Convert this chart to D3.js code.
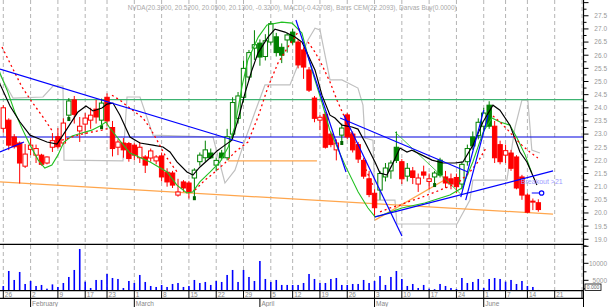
<!DOCTYPE html>
<html>
<head>
<meta charset="utf-8">
<script src="https://cdn.jsdelivr.net/npm/d3@7"></script>
<style>
  body { margin: 0; background: #fff; }
  svg { display: block; font-family: "Liberation Sans", Arial, sans-serif; }
</style>
</head>
<body>
<div id="chart"></div>
<script>
// Daily bars, trading day index 0 = Jan 26 2004
var open  = [23.22,23.53,22.89,22.66,21.78,22.42,22.20,22.20,21.90,22.50,22.90,22.66,23.72,24.30,23.12,23.38,23.53,23.95,23.53,24.40,23.25,22.50,22.66,22.64,22.58,22.10,22.13,22.09,21.98,22.17,21.55,21.52,20.68,21.18,21.14,21.33,21.95,22.10,22.28,21.82,22.28,22.10,23.00,23.60,24.40,25.17,26.27,26.46,25.95,26.50,26.70,26.30,26.58,26.88,26.50,26.20,25.44,24.37,23.53,23.75,23.00,22.40,22.96,23.73,23.00,22.60,22.00,21.30,20.75,20.87,21.37,21.60,22.50,21.95,21.40,21.60,21.10,21.56,21.20,21.37,22.01,21.37,21.30,21.35,21.10,21.95,22.89,22.95,23.30,24.10,23.30,22.60,22.20,22.28,22.13,21.37,20.68,20.42,20.39];
var high  = [24.10,23.60,23.00,22.72,22.62,22.85,22.60,22.25,22.15,23.04,23.23,23.60,24.37,24.45,23.65,23.80,24.00,24.30,24.35,24.55,23.50,22.80,22.85,22.70,22.65,22.70,22.20,22.45,22.20,22.30,21.70,21.60,21.30,21.25,21.22,21.70,22.30,22.75,22.45,22.10,22.40,23.20,24.40,24.60,25.80,26.20,26.95,26.60,26.80,27.30,26.85,26.45,26.85,27.00,26.60,26.30,25.55,24.45,23.72,23.84,23.10,22.80,23.40,23.80,23.10,22.70,22.10,21.60,20.90,21.60,21.90,22.00,23.10,22.05,21.90,21.75,21.50,21.80,21.50,21.60,22.10,21.60,21.50,21.50,21.95,22.60,23.10,23.60,24.00,24.25,23.50,22.75,22.60,22.40,22.20,21.45,20.75,20.55,20.52];
var low   = [23.05,22.39,22.45,21.12,21.71,22.20,21.90,21.80,21.85,22.32,22.45,22.60,23.61,23.40,22.70,23.00,23.20,23.40,23.30,23.30,22.15,22.20,22.10,21.95,22.00,21.90,21.52,21.95,21.85,21.20,21.00,20.95,20.62,20.80,20.55,20.60,21.80,21.95,22.05,21.60,22.00,22.00,22.90,23.40,24.20,25.05,25.82,25.60,25.80,26.40,25.95,25.70,26.10,26.40,25.50,25.10,24.60,23.45,23.15,22.45,22.50,22.00,22.70,22.80,22.30,21.90,21.30,20.60,19.84,20.50,21.20,21.30,21.90,21.10,21.20,21.10,20.80,21.30,20.90,21.10,21.35,20.95,20.90,20.75,20.90,21.80,22.40,22.80,23.10,23.20,21.90,21.85,21.90,21.60,20.90,20.50,20.00,20.11,20.05];
var close = [24.00,22.58,22.52,21.90,22.24,22.58,22.45,21.85,22.13,22.75,22.52,23.42,24.26,23.75,23.30,23.61,23.72,23.65,24.18,23.50,22.45,22.70,22.40,22.07,22.20,22.50,21.82,22.36,22.13,21.37,21.18,21.06,20.80,20.95,20.80,21.63,22.20,22.40,22.10,22.00,22.10,22.90,24.20,24.45,25.50,26.10,26.40,25.93,26.55,27.20,26.10,26.00,26.77,26.50,25.63,25.55,24.67,23.60,23.64,22.50,22.60,22.66,23.23,22.89,22.40,22.05,21.40,20.70,20.20,21.50,21.71,21.90,22.00,21.30,21.70,21.35,21.33,21.44,21.30,21.52,21.44,21.14,21.10,21.00,21.85,22.45,22.55,23.45,23.80,23.30,22.10,21.95,22.37,21.70,20.95,20.68,20.03,20.45,20.13];
// trend state shown by the bar colour (1 = up / green, 0 = down / red)
var trend = [0,0,0,0,0,0,0,0,0,0,0,0,1,0,0,0,0,0,1,0,0,0,0,0,0,0,0,0,0,0,0,0,0,0,0,1,1,1,1,1,1,1,1,1,1,1,1,1,1,1,1,1,1,1,0,0,0,0,0,0,0,0,1,0,0,0,0,0,0,1,1,1,1,0,1,0,0,0,0,1,1,0,0,0,1,1,1,1,1,1,0,0,0,0,0,0,0,0,0];
// volume in thousands of shares
var volume = [3330,7740,5100,7450,3920,4800,3330,3630,2540,3800,3040,4210,5980,8040,14210,4600,2740,5100,5100,6860,5680,5390,2740,4800,4210,6570,4510,3330,3040,3630,3040,3920,4210,3040,3330,5100,4210,4510,3630,4800,4510,6570,8040,4510,8040,5980,4800,10680,5390,4510,5100,3630,3630,3630,3630,4210,6860,5390,4210,4210,5390,5680,3630,3630,3920,3920,5100,4210,4800,6270,3630,5980,7740,5390,3330,3920,2740,3630,2540,2390,3920,3330,2740,2450,5680,4210,4510,5390,2740,5390,5680,5390,4600,5100,3920,4800,3330,3040,2160];
// Darvas buy signals (bar index)
var darvasBuy = [12, 18, 35, 62, 79];

// indicator lines: [day index], [price]
var blackIdx = [-1.15,-0.6,1.23,3.06,4.89,6.17,8.0,9.83,10.93,12.22,13.68,15.15,16.43,18.08,18.99,20.09,21.37,23.2,25.04,27.41,29.25,30.53,31.81,33.64,34.74,36.03,37.86,39.14,40.6,41.89,42.98,44.27,45.55,46.65,48.48,49.76,51.59,53.43,54.71,55.81,57.09,58.37,59.84,60.75,62.03,63.86,64.96,66.24,68.08,68.99,70.27,71.19,72.66,73.94,74.85,76.68,78.52,80.53,82.73,84.19,86.03,87.86,89.69,90.97,92.8,94.63,95.91,97.74];
var blackVal = [25.25,24.90,24.07,23.46,22.96,22.85,22.70,22.62,22.96,23.38,23.84,24.07,23.88,23.99,24.14,24.18,23.72,22.89,22.66,22.58,22.51,22.32,21.94,21.56,21.44,21.75,22.09,22.36,22.58,22.77,23.53,24.56,25.44,26.08,26.69,26.99,26.88,26.69,26.50,26.01,25.44,24.48,23.72,23.61,23.34,23.27,23.19,22.70,21.94,21.52,21.44,21.82,22.47,22.32,22.39,22.20,22.01,21.90,21.90,21.94,22.58,23.46,24.10,23.91,23.34,22.32,21.94,21.06];
var greenIdx = [-1.2,-0.6,0.7,2.1,3.4,4.9,6.4,7.6,8.9,10,11.1,12.6,14.4,16.2,17.7,18.8,19.5,23.2,26.9,30,31.8,33.6,34.7,36,37.9,39.7,41.2,42.4,43.7,44.8,46.7,48.3,51,52.9,54.7,56.5,58.4,59.8,62.6,65,66.8,68.1,69.4,73,77.2,81.8,84,86,87.9,89.5,91,92.8,94.1,95.6,96.8];
var greenVal = [25.74,25.32,24.67,23.84,23.23,22.58,22.01,21.71,21.82,22.20,22.70,22.93,23.04,23.15,23.31,23.46,23.23,22.28,21.94,21.56,21.06,20.76,20.80,21.18,21.56,21.94,22.51,23.27,24.79,25.82,26.69,27.15,27.26,27.22,26.84,25.44,24.18,23.15,21.82,20.80,20.19,19.85,19.92,20.19,20.38,20.68,20.95,21.94,23.08,23.61,23.46,23.34,22.85,22.20,21.52];
var grayIdx = [-0.6,1.78,7.27,9.1,10.93,11.12,21.92,22.66,25.04,27.42,38.41,40.6,42.43,44.27,46.1,47.93,52.51,54.34,55.81,57.09,58.01,58.92,59.84,62.03,64.96,65.88,66.24,67.71,68.08,71.74,72.1,83.09,85.47,86.01,92.24,93.7,94.99,96.08,96.81,98.28];
var grayVal = [25.25,24.37,24.41,24.83,24.83,22.01,21.98,24.41,24.41,22.96,22.89,21.14,21.63,22.77,23.84,24.87,24.87,25.82,26.58,27.03,26.96,26.01,25.06,25.06,24.75,24.10,22.85,22.77,20.49,20.49,19.58,19.58,20.49,21.25,21.25,23.23,24.29,24.29,22.39,22.28];
// stop-and-reverse points, null breaks the line where it flips
var sarIdx = [-0.24,1.59,3.42,5.26,7.27,9.1,null,10.75,12.58,14.41,16.24,18.08,19.54,null,19.91,21.37,22.66,24.12,25.59,26.87,28.15,29.62,30.9,32.0,null,35.11,36.94,38.77,40.6,42.43,44.82,46.65,48.48,50.31,52.14,53.43,54.34,null,55.81,57.09,58.37,59.84,61.12,62.58,63.86,65.33,66.61,67.71,null,69.0,70.82,72.66,74.49,76.32,78.15,79.98,81.81,83.64,85.47,86.93,88.4,null,89.69,90.97,92.44,93.7,94.99,96.45,97.92];
var sarVal = [26.31,25.55,24.79,24.22,23.65,23.08,null,22.77,22.89,23.00,23.08,23.15,23.23,null,24.48,24.29,24.07,23.84,23.61,23.23,22.77,22.20,21.82,21.52,null,20.87,21.25,21.56,21.90,22.32,22.70,23.65,24.79,25.70,26.31,26.69,27.03,null,26.50,26.12,25.63,24.98,24.29,23.61,22.96,22.20,21.56,21.06,null,20.04,20.19,20.30,20.45,20.57,20.72,20.87,21.02,21.21,21.56,21.94,22.47,null,23.69,23.46,23.15,22.85,22.58,22.32,22.09];

// drawn trend lines: [startIdx, startPrice, endIdx, endPrice]
var blueLines = [[-0.6,25.47,43.9,22.66],[-0.6,22.32,3.79,22.70],[53.6,27.34,62.77,21.56],[62.4,23.72,73.02,19.12],[61.7,23.61,85.1,21.56],[68.08,19.85,100.7,21.6],[83.8,20.60,88.0,23.91],[84.7,20.49,88.8,23.72]];
var orangeLines = [[-0.6,21.18,100.7,19.96],[41.15,21.98,57.45,21.98],[68.08,19.73,81.45,21.33]];
var greenTrend = [[71.74,23.08,84.0,20.68]];
var levelGreen = 24.31, levelBlue = 22.89;

// axis labels
var weekIdx = [0,5,10,15,19,24,29,34,39,44,49,53,58,63,68,73,78,83,88,92,96,101,106];
var weekLabel = ["26","2","9","17","23","1","8","15","22","29","5","12","19","26","3","10","17","24","1","7","14","21","28"];
var monthIdx = [5,24,47,68,88];
var monthLabel = ["February","March","April","May","June"];
var priceTicks = d3.range(19, 27.51, 0.5);
var volTicks = [5000, 10000];

var title = "NVDA(20.3900, 20.5200, 20.0500, 20.1300, -0.3200), MACD(-0.42708), Barrs CEM(22.2093), Darvas Buy(0.0000)";

var svg = d3.select("#chart").append("svg").attr("width", 610).attr("height", 307);

var axisX = 583.5, priceBottom = 244.3, volBottom = 290.7, dateRow = 298.3;
var x = d3.scaleLinear().domain([0, 101]).range([3.3, 554.7]);
var y = d3.scaleLinear().domain([18.82, 28.1]).range([244, 0]);
var yv = d3.scaleLinear().domain([1941, 15588]).range([volBottom, priceBottom]);

var red = "#ff0000", green = "#008000";

svg.append("clipPath").attr("id", "pclip").append("rect")
  .attr("x", 0).attr("y", 0).attr("width", axisX).attr("height", priceBottom);
svg.append("clipPath").attr("id", "aclip").append("rect")
  .attr("x", 0).attr("y", 0).attr("width", axisX).attr("height", 307);

// dashed week gridlines
svg.append("g").selectAll("line").data(weekIdx.filter(function (d) { return x(d) < axisX - 1; }))
  .enter().append("line")
  .attr("x1", function (d) { return x(d); }).attr("x2", function (d) { return x(d); })
  .attr("y1", 0).attr("y2", volBottom)
  .attr("stroke", "#b4b4b4").attr("stroke-dasharray", "4,3");

var pg = svg.append("g").attr("clip-path", "url(#pclip)");

function seg(g, arr, color, width) {
  g.selectAll(null).data(arr).enter().append("line")
    .attr("x1", function (d) { return x(d[0]); }).attr("y1", function (d) { return y(d[1]); })
    .attr("x2", function (d) { return x(d[2]); }).attr("y2", function (d) { return y(d[3]); })
    .attr("stroke", color).attr("stroke-width", width);
}

function series(idx, val) {
  return idx.map(function (d, i) { return d === null ? null : [d, val[i]]; });
}

var line = d3.line()
  .defined(function (d) { return d !== null; })
  .x(function (d) { return x(d[0]); })
  .y(function (d) { return y(d[1]); });

// gray box line
pg.append("path").datum(series(grayIdx, grayVal)).attr("d", line)
  .attr("fill", "none").attr("stroke", "#c0c0c0").attr("stroke-width", 1.2);

// orange lines
seg(pg, orangeLines, "#ffa64d", 1.3);

// horizontal levels
pg.append("line").attr("x1", 0).attr("x2", axisX).attr("y1", y(levelGreen)).attr("y2", y(levelGreen))
  .attr("stroke", "#3cb371").attr("stroke-width", 1.2);
pg.append("line").attr("x1", 0).attr("x2", axisX).attr("y1", y(levelBlue)).attr("y2", y(levelBlue))
  .attr("stroke", "#0000e0").attr("stroke-width", 1.2);

// candles
var bars = close.map(function (c, i) {
  return { i: i, o: open[i], h: high[i], l: low[i], c: c, up: trend[i] === 1 };
});
var bw = 4.4;
var cg = pg.append("g").selectAll("g").data(bars).enter().append("g");
cg.append("line")
  .attr("x1", function (d) { return x(d.i); }).attr("x2", function (d) { return x(d.i); })
  .attr("y1", function (d) { return y(d.h); }).attr("y2", function (d) { return y(d.l); })
  .attr("stroke", function (d) { return d.up ? green : red; });
cg.append("rect")
  .attr("x", function (d) { return x(d.i) - bw / 2; })
  .attr("y", function (d) { return y(Math.max(d.o, d.c)); })
  .attr("width", bw)
  .attr("height", function (d) { return Math.max(1, Math.abs(y(d.o) - y(d.c))); })
  .attr("fill", function (d) { return d.c >= d.o ? "#fff" : (d.up ? green : red); })
  .attr("stroke", function (d) { return d.up ? green : red; })
  .attr("stroke-width", 1);

// Darvas buy marks
pg.selectAll(null).data(darvasBuy).enter().append("rect")
  .attr("x", function (d) { return x(d) - 1.5; })
  .attr("y", function (d) { return y(low[d]) - 1; })
  .attr("width", 3).attr("height", 4)
  .attr("fill", "#006400");

// green and black averages
pg.append("path").datum(series(greenIdx, greenVal)).attr("d", line)
  .attr("fill", "none").attr("stroke", "#22c022").attr("stroke-width", 1.1);
seg(pg, greenTrend, "#22c022", 0.8);
pg.append("path").datum(series(blackIdx, blackVal)).attr("d", line)
  .attr("fill", "none").attr("stroke", "#000").attr("stroke-width", 1.2);

// parabolic stop line
pg.append("path").datum(series(sarIdx, sarVal)).attr("d", line)
  .attr("fill", "none").attr("stroke", red).attr("stroke-width", 1.3).attr("stroke-dasharray", "2,3");

// blue trend lines
seg(pg, blueLines, "#0000ff", 1.2);

// breakout note
pg.append("text").attr("x", x(94.8)).attr("y", y(21.12))
  .attr("font-size", "7px").attr("fill", "#9a9aff").text("Breakout >21");
pg.append("line").attr("x1", x(96.8)).attr("x2", x(98.6)).attr("y1", y(20.76)).attr("y2", y(20.76))
  .attr("stroke", "#0000ff").attr("stroke-width", 1.2);
pg.append("circle").attr("cx", x(98.6)).attr("cy", y(20.76)).attr("r", 2.2)
  .attr("fill", "#fff").attr("stroke", "#0000ff").attr("stroke-width", 1.2);

// volume bars
svg.append("g").selectAll("rect").data(volume).enter().append("rect")
  .attr("x", function (d, i) { return x(i) - 0.8; })
  .attr("y", function (d) { return yv(d); })
  .attr("width", 1.6)
  .attr("height", function (d) { return Math.max(0, volBottom - yv(d)); })
  .attr("fill", "#0000ff");

// panel borders
[priceBottom, volBottom, dateRow].forEach(function (yy) {
  svg.append("line").attr("x1", 0).attr("x2", axisX).attr("y1", yy).attr("y2", yy)
    .attr("stroke", "#000").attr("stroke-width", 1.2);
});

// date row and month row
var ag = svg.append("g").attr("clip-path", "url(#aclip)");
ag.selectAll(null).data(weekIdx).enter().append("line")
  .attr("x1", function (d) { return x(d); }).attr("x2", function (d) { return x(d); })
  .attr("y1", volBottom).attr("y2", dateRow).attr("stroke", "#000");
ag.selectAll(null).data(weekIdx).enter().append("text")
  .attr("x", function (d) { return x(d) + 1.5; }).attr("y", 296.8)
  .attr("font-size", "6.5px").attr("fill", "#888")
  .text(function (d, i) { return weekLabel[i]; });
ag.selectAll(null).data(monthIdx).enter().append("line")
  .attr("x1", function (d) { return x(d); }).attr("x2", function (d) { return x(d); })
  .attr("y1", dateRow).attr("y2", 307).attr("stroke", "#000");
ag.selectAll(null).data(monthIdx).enter().append("text")
  .attr("x", function (d) { return x(d) + 1.5; }).attr("y", 305.5)
  .attr("font-size", "6.5px").attr("fill", "#888")
  .text(function (d, i) { return monthLabel[i]; });
svg.append("line").attr("x1", axisX).attr("x2", axisX).attr("y1", volBottom).attr("y2", 307)
  .attr("stroke", "#000");

// right axis
svg.append("line").attr("x1", axisX).attr("x2", axisX).attr("y1", 0).attr("y2", volBottom)
  .attr("stroke", "#000").attr("stroke-width", 1.2);
var minor = d3.range(18.75, 28.01, 0.25);
svg.append("g").selectAll("line").data(minor).enter().append("line")
  .attr("x1", axisX).attr("x2", function (d, i) { return axisX + (i % 2 === 1 ? 5 : 3); })
  .attr("y1", function (d) { return y(d); }).attr("y2", function (d) { return y(d); })
  .attr("stroke", "#000");
svg.append("g").selectAll("text").data(priceTicks).enter().append("text")
  .attr("x", 607).attr("y", function (d) { return y(d) + 2.4; })
  .attr("text-anchor", "end").attr("font-size", "6.5px").attr("fill", "#999")
  .text(function (d) { return d.toFixed(1); });

var vminor = d3.range(2500, 15001, 2500);
svg.append("g").selectAll("line").data(vminor).enter().append("line")
  .attr("x1", axisX).attr("x2", function (d) { return axisX + (d % 5000 === 0 ? 5 : 3); })
  .attr("y1", function (d) { return yv(d); }).attr("y2", function (d) { return yv(d); })
  .attr("stroke", "#000");
svg.append("g").selectAll("text").data(volTicks).enter().append("text")
  .attr("x", 607).attr("y", function (d) { return yv(d) + 2.4; })
  .attr("text-anchor", "end").attr("font-size", "6.5px").attr("fill", "#999")
  .text(function (d) { return d; });
// current value box on the volume axis
svg.append("rect").attr("x", axisX + 1.5).attr("y", 284).attr("width", 16).attr("height", 6.5)
  .attr("fill", "#fff").attr("stroke", "#000").attr("stroke-width", 0.8);
svg.append("text").attr("x", axisX + 9.5).attr("y", 289.2).attr("text-anchor", "middle")
  .attr("font-size", "5px").attr("fill", "#666").text("0.000");

// title line
svg.append("text").attr("x", 127.7).attr("y", 9.5)
  .attr("font-size", "7px").attr("fill", "#a8a8a8")
  .attr("textLength", 329).attr("lengthAdjust", "spacingAndGlyphs")
  .text(title);
</script>
</body>
</html>
